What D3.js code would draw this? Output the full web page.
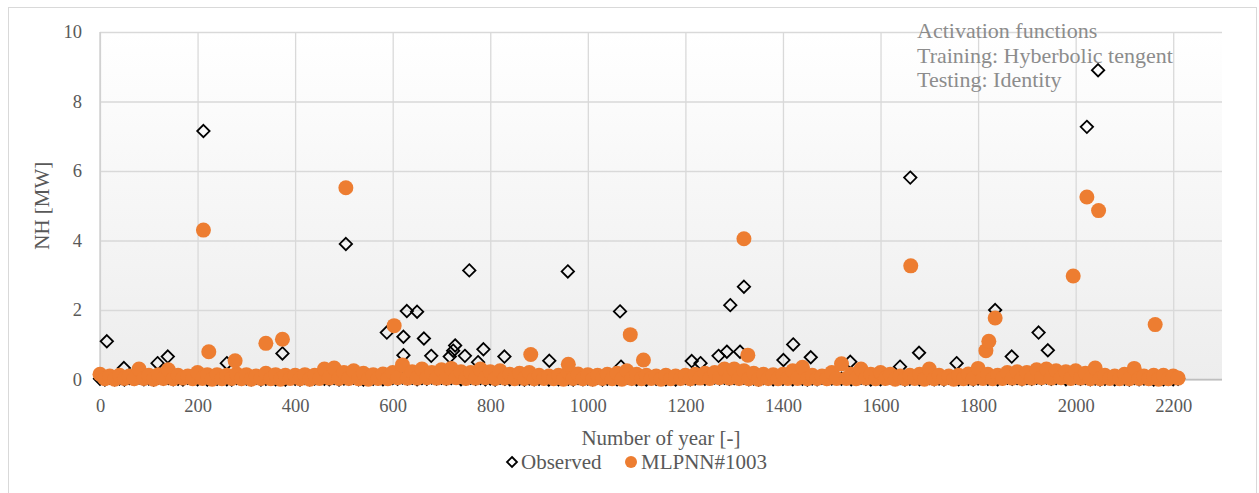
<!DOCTYPE html>
<html>
<head>
<meta charset="utf-8">
<script src="https://cdn.jsdelivr.net/npm/d3@7/dist/d3.min.js"></script>
<style>
  body { margin: 0; background: #fff; }
  svg text { font-family: "Liberation Serif", "DejaVu Serif", serif; }
</style>
</head>
<body>
<svg id="chart" width="1259" height="493"></svg>
<script>
// x ticks and labels
const xTicks = [0, 200, 400, 600, 800, 1000, 1200, 1400, 1600, 1800, 2000, 2200];
const yTicks = [0, 2, 4, 6, 8, 10];
const notes = ['Activation functions', 'Training: Hyberbolic tengent', 'Testing: Identity'];
const seriesNames = ['Observed', 'MLPNN#1003'];

// dense low band, one value every 10 years (0 .. 2210)
const bandYears = d3.range(0, 2211, 10);
const obsBand = [
  0.02, 0, 0.05, 0.01, 0.03, 0, 0.04, 0.02, 0.06, 0.01,
  0.03, 0, 0.05, 0.02, 0.04, 0.01, 0.02, 0, 0.05, 0.03,
  0.01, 0.04, 0, 0.03, 0.02, 0.05, 0.01, 0, 0.04, 0.02,
  0.03, 0.01, 0.05, 0, 0.02, 0.04, 0.01, 0.03, 0, 0.05,
  0.02, 0, 0.04, 0.01, 0.03, 0.05, 0.02, 0.01, 0.04, 0,
  0.03, 0.02, 0.05, 0.01, 0, 0.04, 0.02, 0.03, 0.01, 0.05,
  0.04, 0.02, 0.06, 0.03, 0.05, 0.01, 0.04, 0.02, 0.06, 0.03,
  0.05, 0.02, 0.04, 0.06, 0.01, 0.03, 0.05, 0.02, 0.04, 0.01,
  0.03, 0, 0.05, 0.02, 0.01, 0.04, 0.02, 0, 0.03, 0.01,
  0.02, 0.04, 0, 0.03, 0.01, 0.05, 0.02, 0, 0.04, 0.01,
  0.03, 0.01, 0.05, 0, 0.02, 0.04, 0.01, 0.03, 0.05, 0.02,
  0.01, 0.03, 0, 0.04, 0.02, 0.05, 0.01, 0.03, 0, 0.02,
  0.04, 0.01, 0.03, 0.05, 0.02, 0.04, 0.06, 0.03, 0.05, 0.02,
  0.04, 0.02, 0.05, 0.01, 0.03, 0, 0.04, 0.02, 0.01, 0.03,
  0.02, 0.05, 0.01, 0.04, 0.02, 0, 0.03, 0.01, 0.05, 0.02,
  0.03, 0.05, 0.02, 0.04, 0.01, 0.03, 0.05, 0.02, 0, 0.04,
  0.01, 0.03, 0.05, 0.02, 0.04, 0, 0.02, 0.05, 0.01, 0.03,
  0.04, 0.01, 0.03, 0, 0.05, 0.02, 0.01, 0.04, 0.02, 0,
  0.03, 0.05, 0.02, 0.04, 0.01, 0.03, 0.05, 0.02, 0.04, 0.01,
  0.04, 0.02, 0.05, 0.03, 0.06, 0.02, 0.04, 0.05, 0.01, 0.03,
  0.05, 0.02, 0.04, 0.01, 0.03, 0, 0.02, 0.04, 0.01, 0.03,
  0.02, 0, 0.04, 0.01, 0.03, 0.02, 0, 0.03, 0.01, 0.02,
  0.01, 0.02
];
const mlpBand = [
  0.15, 0.02, 0.1, 0.01, 0.12, 0.03, 0.1, 0.02, 0.3, 0.03,
  0.12, 0.01, 0.14, 0.03, 0.28, 0.02, 0.12, 0.04, 0.1, 0.02,
  0.2, 0.03, 0.14, 0.01, 0.14, 0.02, 0.12, 0.03, 0.16, 0.02,
  0.14, 0.01, 0.1, 0.03, 0.18, 0.02, 0.14, 0.01, 0.12, 0.03,
  0.12, 0.02, 0.14, 0.01, 0.12, 0.03, 0.3, 0.04, 0.33, 0.03,
  0.2, 0.03, 0.25, 0.02, 0.18, 0.01, 0.14, 0.03, 0.16, 0.02,
  0.2, 0.05, 0.42, 0.04, 0.22, 0.04, 0.3, 0.05, 0.2, 0.04,
  0.28, 0.04, 0.32, 0.05, 0.22, 0.03, 0.2, 0.04, 0.3, 0.05,
  0.22, 0.03, 0.25, 0.04, 0.15, 0.02, 0.18, 0.03, 0.2, 0.02,
  0.12, 0.03, 0.1, 0.02, 0.12, 0.01, 0.2, 0.03, 0.16, 0.02,
  0.14, 0.01, 0.12, 0.03, 0.15, 0.02, 0.18, 0.01, 0.25, 0.03,
  0.15, 0.02, 0.12, 0.03, 0.1, 0.01, 0.12, 0.02, 0.1, 0.03,
  0.12, 0.02, 0.15, 0.04, 0.18, 0.03, 0.2, 0.05, 0.3, 0.04,
  0.3, 0.03, 0.25, 0.02, 0.18, 0.01, 0.15, 0.03, 0.14, 0.02,
  0.15, 0.03, 0.25, 0.03, 0.35, 0.02, 0.12, 0.03, 0.1, 0.02,
  0.2, 0.03, 0.45, 0.03, 0.15, 0.02, 0.3, 0.04, 0.15, 0.02,
  0.2, 0.03, 0.15, 0.01, 0.1, 0.02, 0.12, 0.03, 0.15, 0.01,
  0.3, 0.02, 0.12, 0.03, 0.1, 0.01, 0.12, 0.02, 0.16, 0.03,
  0.32, 0.03, 0.15, 0.02, 0.12, 0.03, 0.2, 0.04, 0.22, 0.03,
  0.2, 0.04, 0.28, 0.05, 0.3, 0.04, 0.25, 0.05, 0.22, 0.03,
  0.25, 0.04, 0.18, 0.02, 0.33, 0.02, 0.12, 0.03, 0.1, 0.02,
  0.15, 0.02, 0.32, 0.03, 0.1, 0.02, 0.12, 0.01, 0.12, 0.02,
  0.1, 0.04
];

// points standing out of the band, [year, value]
const obsPeaks = [
  [14, 1.1], [49, 0.33], [118, 0.47], [139, 0.66], [212, 7.15], [260, 0.47],
  [374, 0.75], [504, 3.9], [588, 1.35], [622, 1.23], [622, 0.7], [629, 1.97],
  [650, 1.95], [664, 1.18], [679, 0.68], [717, 0.66], [724, 0.83], [728, 0.98],
  [748, 0.68], [757, 3.14], [775, 0.5], [786, 0.87], [829, 0.66], [921, 0.54],
  [959, 3.11], [1066, 1.96], [1068, 0.37], [1213, 0.53], [1231, 0.47], [1268, 0.68],
  [1285, 0.8], [1292, 2.14], [1312, 0.8], [1320, 2.67], [1401, 0.56], [1421, 1.01],
  [1457, 0.64], [1538, 0.51], [1640, 0.37], [1661, 5.81], [1679, 0.77], [1756, 0.47],
  [1835, 2.0], [1869, 0.66], [1924, 1.35], [1943, 0.84], [2023, 7.27], [2046, 8.9]
];
const mlpPeaks = [
  [212, 4.3], [223, 0.8], [277, 0.54], [340, 1.04], [374, 1.16], [504, 5.52],
  [603, 1.55], [883, 0.72], [960, 0.44], [1087, 1.29], [1114, 0.56], [1320, 4.05],
  [1328, 0.7], [1662, 3.27], [1816, 0.83], [1822, 1.1], [1835, 1.77], [1995, 2.98],
  [2023, 5.25], [2047, 4.86], [2163, 1.58]
];

const observed = bandYears.map((yr, i) => [yr, obsBand[i]]).concat(obsPeaks);
const mlpnn = bandYears.map((yr, i) => [yr, mlpBand[i]]).concat(mlpPeaks);

const plotL = 100, plotR = 1222, plotT = 32, plotB = 379.5;
const orange = '#ED7D31';
const serif = '"Liberation Serif", "DejaVu Serif", serif';
const svg = d3.select('#chart');

// outer frame
svg.append('rect').attr('x', 8.5).attr('y', 7.5).attr('width', 1248).attr('height', 495)
   .attr('fill', '#fff').attr('stroke', '#d9d9d9').attr('stroke-width', 1);

const grad = svg.append('defs').append('linearGradient')
   .attr('id', 'bg').attr('x1', 0).attr('y1', 0).attr('x2', 0).attr('y2', 1);
grad.append('stop').attr('offset', '0%').attr('stop-color', '#ffffff');
grad.append('stop').attr('offset', '100%').attr('stop-color', '#ededed');

svg.append('rect').attr('x', plotL).attr('y', plotT)
   .attr('width', plotR - plotL).attr('height', plotB - plotT).attr('fill', 'url(#bg)');

const x = d3.scaleLinear().domain([0, 2300]).range([plotL, plotR]);
const y = d3.scaleLinear().domain([0, 10]).range([plotB, plotT]);

// grid
svg.append('g')
   .attr('transform', 'translate(0,' + plotB + ')')
   .call(d3.axisBottom(x).tickValues(xTicks).tickSize(-(plotB - plotT)).tickFormat(''))
   .call(g => g.select('.domain').remove())
   .call(g => g.selectAll('line').attr('stroke', '#d9d9d9').attr('stroke-width', 1.3));
svg.append('g')
   .attr('transform', 'translate(' + plotL + ',0)')
   .call(d3.axisLeft(y).tickValues(yTicks).tickSize(-(plotR - plotL)).tickFormat(''))
   .call(g => g.select('.domain').remove())
   .call(g => g.selectAll('line').attr('stroke', '#d9d9d9').attr('stroke-width', 1.3));

svg.append('line').attr('x1', plotL).attr('x2', plotL).attr('y1', plotT).attr('y2', plotB)
   .attr('stroke', '#cccccc').attr('stroke-width', 1.3);
svg.append('line').attr('x1', plotL).attr('x2', plotR).attr('y1', plotB).attr('y2', plotB)
   .attr('stroke', '#bfbfbf').attr('stroke-width', 1.5);

// axes labels
svg.append('g')
   .attr('transform', 'translate(0,' + plotB + ')')
   .attr('font-family', serif)
   .call(d3.axisBottom(x).tickValues(xTicks).tickSize(0).tickPadding(19).tickFormat(d3.format('d')))
   .attr('font-family', serif).attr('font-size', 18.5)
   .call(g => g.select('.domain').remove())
   .call(g => g.selectAll('text').attr('fill', '#595959'));
svg.append('g')
   .attr('transform', 'translate(' + plotL + ',0)')
   .call(d3.axisLeft(y).tickValues(yTicks).tickSize(0).tickPadding(18).tickFormat(d3.format('d')))
   .attr('font-family', serif).attr('font-size', 18.5)
   .call(g => g.select('.domain').remove())
   .call(g => g.selectAll('text').attr('fill', '#595959'));

svg.append('text').attr('x', (plotL + plotR) / 2).attr('y', 445)
   .attr('text-anchor', 'middle').attr('fill', '#595959')
   .attr('font-family', serif).attr('font-size', 21)
   .text('Number of year [-]');
svg.append('text').attr('transform', 'translate(49,' + ((plotT + plotB) / 2) + ') rotate(-90)')
   .attr('text-anchor', 'middle').attr('fill', '#595959')
   .attr('font-family', serif).attr('font-size', 21)
   .text('NH [MW]');

// marks
const diamond = s => 'M0,' + (-s) + 'L' + s + ',0L0,' + s + 'L' + (-s) + ',0Z';

svg.append('g').selectAll('path')
   .data(observed)
   .enter()
   .append('path')
   .attr('d', diamond(6.2))
   .attr('transform', d => 'translate(' + x(d[0]) + ',' + y(d[1]) + ')')
   .attr('fill', 'none')
   .attr('stroke', '#000')
   .attr('stroke-width', 1.8);

svg.append('g').selectAll('circle')
   .data(mlpnn)
   .enter()
   .append('circle')
   .attr('cx', d => x(d[0]))
   .attr('cy', d => y(d[1]))
   .attr('r', 7.5)
   .attr('fill', orange);

// annotation
svg.append('text').attr('x', 917).attr('y', 38)
   .attr('fill', '#8c8c8c').attr('font-family', serif).attr('font-size', 22)
   .selectAll('tspan')
   .data(notes)
   .enter()
   .append('tspan')
   .attr('x', 917)
   .attr('dy', (d, i) => i === 0 ? 0 : 24.6)
   .text(d => d);

// legend
const lg = svg.append('g').attr('transform', 'translate(0,462)')
   .attr('font-family', serif).attr('font-size', 21);
lg.append('path').attr('d', diamond(5)).attr('transform', 'translate(512,0)')
  .attr('fill', 'none').attr('stroke', '#000').attr('stroke-width', 1.8);
lg.append('text').attr('x', 521).attr('y', 6.5).attr('fill', '#595959').text(seriesNames[0]);
lg.append('circle').attr('cx', 631).attr('cy', 0).attr('r', 6).attr('fill', orange);
lg.append('text').attr('x', 641).attr('y', 6.5).attr('fill', '#595959').text(seriesNames[1]);
</script>
</body>
</html>
